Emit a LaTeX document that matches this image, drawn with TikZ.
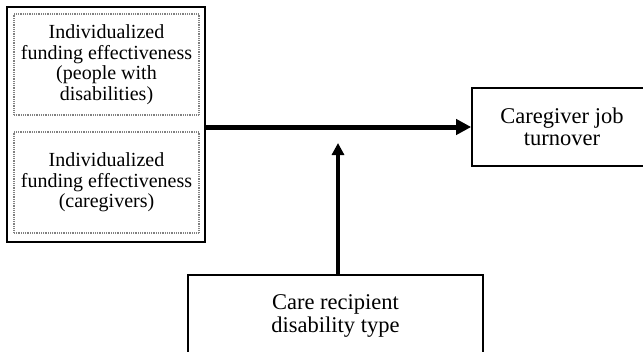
\documentclass[tikz,border=0pt]{standalone}
\usepackage{fontspec}
\setmainfont{Liberation Serif}
\usetikzlibrary{arrows.meta}

\begin{document}
\begin{tikzpicture}[x=1pt, y=-1pt,
    every node/.style = {font=\fontsize{20}{20.5}\selectfont, align=center},
    main/.style = {draw, line width=1.6pt, inner sep=0pt, font=\fontsize{22.5}{22.5}\selectfont},
    dotbox/.style = {draw=gray, line width=1.4pt, dash pattern=on 1pt off 0.8pt, inner sep=0pt, minimum width=185pt},
    group/.style = {draw, line width=2.4pt, inner sep=0pt}]
    \useasboundingbox (0,0) rectangle (643,351);

    \node[group, minimum width=198pt, minimum height=235pt] (effect) at (106,124.5) {};
    \node[dotbox, minimum height=101pt] (people) at (106.5,64.5) {Individualized\\funding effectiveness\\(people with\\disabilities)};
    \node[dotbox, minimum height=101pt] (givers) at (106.5,182.5) {Individualized\\funding effectiveness\\(caregivers)};

    \node[main, minimum width=180pt, minimum height=78pt] (turnover) at (562,127) {Caregiver job\\turnover};
    \node[main, minimum width=295pt, minimum height=82pt] (type) at (335.5,316) {Care recipient\\disability type};

    \coordinate (mod) at (338,143);

    % main effect and moderator
    \draw[line width=5pt, -{Triangle[length=15pt,width=15pt]}] (effect.east |- turnover.west) -- (turnover.west);
    \draw[line width=3.5pt, -{Triangle[length=12pt,width=12pt]}] (mod |- type.north) -- (mod);
\end{tikzpicture}
\end{document}
